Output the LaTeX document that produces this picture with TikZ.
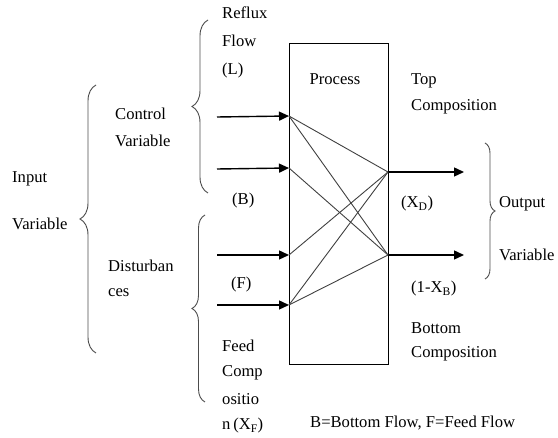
\documentclass[tikz,border=0pt]{standalone}
\usepackage{fontspec}
\setmainfont{Liberation Serif}
\usetikzlibrary{arrows.meta,decorations.pathreplacing}
\begin{document}
\begin{tikzpicture}[x=1pt,y=-1pt,
  lbl/.style={anchor=west,inner sep=0pt,font=\fontsize{16.6}{19}\selectfont},
  inarrow/.style={line width=1.4pt,-{Triangle[length=10pt,width=9pt]}},
  inner/.style={line width=0.9pt,draw=black!75},
  brc/.style={decorate,decoration={brace,amplitude=#1},line width=0.9pt,draw=black!70}]
\useasboundingbox (0,0) rectangle (558,438);
% process box
\node[draw,line width=1.2pt,minimum width=99pt,minimum height=321pt,inner sep=0pt,anchor=north west] (box) at (289,43) {};
\node[lbl,anchor=center] (proc) at (335,79) {Process};
% input points
\coordinate (i1) at (289,116);
\coordinate (i2) at (289,168);
\coordinate (i3) at (289,255);
\coordinate (i4) at (289,305);
\coordinate (s1) at (217,117);
\coordinate (s2) at (217,169);
\coordinate (s3) at (217,255);
\coordinate (s4) at (217,305);
\coordinate (o1) at (388,172);
\coordinate (o2) at (388,255);
\coordinate (e1) at (464,172);
\coordinate (e2) at (464,255);
\draw[inarrow] (s1) -- (i1);
\draw[inarrow] (s2) -- (i2);
\draw[inarrow] (s3) -- (i3);
\draw[inarrow] (s4) -- (i4);
\draw[inarrow] (o1) -- (e1);
\draw[inarrow] (o2) -- (e2);
% internal lines
\draw[inner] (i1) -- (o1);
\draw[inner] (i1) -- (o2);
\draw[inner] (i2) -- (o2);
\draw[inner] (i3) -- (o1);
\draw[inner] (i4) -- (o1);
\draw[inner] (i4) -- (o2);
% braces
\coordinate (ib1) at (96,353);
\coordinate (ib2) at (96,85);
\draw[brc=16pt] (ib1) -- (ib2);
\coordinate (cb1) at (208,193);
\coordinate (cb2) at (208,20);
\draw[brc=16pt] (cb1) -- (cb2);
\coordinate (db1) at (205,402);
\coordinate (db2) at (205,215);
\draw[brc=13pt] (db1) -- (db2);
\coordinate (ob1) at (485,143);
\coordinate (ob2) at (485,279);
\draw[brc=10pt] (ob1) -- (ob2);
% texts
\node[lbl] (t1) at (222,13) {Reflux};
\node[lbl] (t2) at (222,41) {Flow};
\node[lbl] (t3) at (222,71) {(L)};
\node[lbl] (t4) at (115,114) {Control};
\node[lbl] (t5) at (115,141) {Variable};
\node[lbl] (t6) at (12,179) {Input};
\node[lbl] (t7) at (12,224) {Variable};
\node[lbl] (t8) at (232,201) {(B)};
\node[lbl] (t9) at (108,266) {Disturban};
\node[lbl] (t10) at (108,293) {ces};
\node[lbl] (t11) at (231,285) {(F)};
\node[lbl] (t12) at (222,346) {Feed};
\node[lbl] (t13) at (222,373) {Comp};
\node[lbl] (t14) at (222,399) {ositio};
\node[lbl] (t15) at (222,426) {n\,(X\textsubscript{F})};
\node[lbl] (t16) at (411,81) {Top};
\node[lbl] (t17) at (411,107) {Composition};
\node[lbl] (t18) at (401,204) {(X\textsubscript{D})};
\node[lbl] (t19) at (499,204) {Output};
\node[lbl] (t20) at (499,255) {Variable};
\node[lbl] (t21) at (411,289) {(1-X\textsubscript{B})};
\node[lbl] (t22) at (411,328) {Bottom};
\node[lbl] (t23) at (411,354) {Composition};
\node[lbl] (t24) at (310,423) {B=Bottom Flow, F=Feed Flow};
\end{tikzpicture}
\end{document}
